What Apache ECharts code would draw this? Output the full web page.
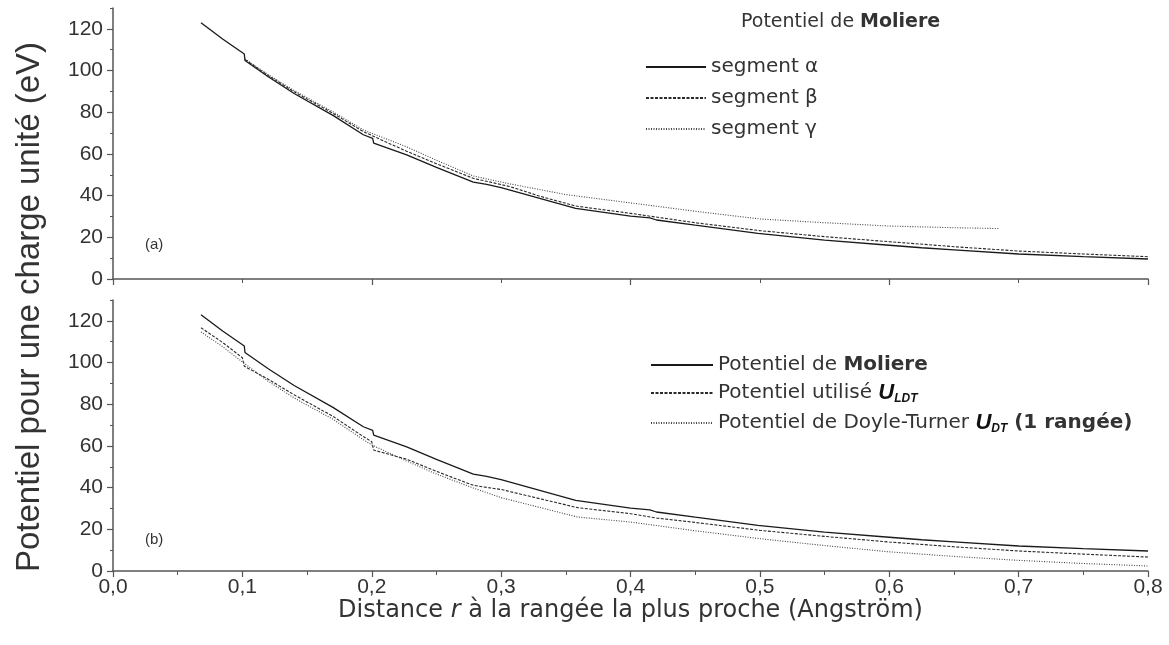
<!DOCTYPE html>
<html>
<head>
<meta charset="utf-8">
<script src="https://cdn.jsdelivr.net/npm/echarts@6/dist/echarts.min.js"></script>
<style>
  html, body { margin: 0; padding: 0; background: #fff; }
  #chart { width: 1169px; height: 645px; }
</style>
</head>
<body>
<div id="chart"></div>
<script>
// panel (a): Moliere potential along three segments
const alphaR = [0.068, 0.085, 0.1015, 0.102, 0.12, 0.14, 0.17, 0.1935, 0.2007, 0.2015, 0.227, 0.25, 0.2785, 0.2888, 0.3, 0.3576, 0.4, 0.415, 0.42, 0.45, 0.4985, 0.499, 0.55, 0.6, 0.625, 0.65, 0.7, 0.75, 0.8];
const alphaV = [122.9, 115.0, 107.9, 104.8, 97.0, 89.0, 78.5, 69.2, 67.5, 65.2, 59.5, 53.5, 46.5, 45.4, 43.8, 33.9, 30.2, 29.3, 28.3, 25.8, 21.9, 21.0, 18.6, 16.2, 15.0, 14.0, 12.0, 10.7, 9.6];

const betaR = [0.102, 0.12, 0.14, 0.17, 0.1935, 0.21, 0.227, 0.25, 0.2785, 0.307, 0.33, 0.3576, 0.4, 0.45, 0.5, 0.55, 0.6, 0.65, 0.7, 0.75, 0.8];
const betaV = [105.3, 97.6, 89.8, 79.5, 70.7, 66.0, 61.3, 55.3, 48.3, 44.3, 39.7, 35.0, 31.5, 27.0, 23.2, 20.3, 17.9, 15.5, 13.4, 12.0, 10.7];

const gammaR = [0.102, 0.12, 0.14, 0.17, 0.1935, 0.21, 0.227, 0.25, 0.2785, 0.307, 0.35, 0.4, 0.45, 0.5, 0.55, 0.6, 0.65, 0.685];
const gammaV = [105.6, 98.0, 90.4, 80.2, 71.5, 67.5, 63.4, 57.0, 49.4, 45.6, 40.5, 36.5, 32.5, 28.8, 27.0, 25.4, 24.6, 24.2];

// panel (b): U_LDT and Doyle-Turner, Moliere reused from alpha
const ldtR = [0.068, 0.085, 0.1, 0.1015, 0.12, 0.14, 0.17, 0.1935, 0.2, 0.2015, 0.227, 0.25, 0.2785, 0.29, 0.3, 0.359, 0.4, 0.42, 0.45, 0.5, 0.55, 0.6, 0.65, 0.7, 0.75, 0.8];
const ldtV = [116.7, 109.5, 102.3, 98.2, 92.0, 84.5, 74.2, 64.5, 62.0, 58.0, 53.6, 47.8, 41.1, 40.0, 39.1, 30.4, 27.5, 25.4, 23.3, 19.5, 16.6, 13.9, 11.6, 9.6, 8.1, 6.7];

const dtR = [0.068, 0.085, 0.1, 0.12, 0.14, 0.17, 0.1935, 0.2, 0.227, 0.25, 0.2785, 0.3, 0.359, 0.4, 0.45, 0.5, 0.55, 0.6, 0.65, 0.7, 0.75, 0.8];
const dtV = [114.7, 107.5, 100.3, 91.0, 83.0, 72.8, 63.0, 60.5, 52.7, 46.5, 39.8, 35.2, 25.9, 23.5, 19.3, 15.5, 12.2, 9.2, 7.0, 5.1, 3.6, 2.4];

const yMajor = [0, 20, 40, 60, 80, 100, 120];

const zip = (xs, ys) => xs.map((x, i) => [x, ys[i]]);

const FONT = "Liberation Sans";
const WIDE = "DejaVu Sans";
const axisColor = "#555";
const textColor = "#333";

const chart = echarts.init(document.getElementById("chart"));

const grids = [
  { left: 113, right: 21, top: 8, height: 271 },
  { left: 113, right: 21, top: 300, height: 271 },
];

function yAxesFor(gridIndex) {
  return [
    {
      // minor ticks every 10, carries the axis line
      type: "value", gridIndex, position: "left", min: 0, max: 130, interval: 10,
      axisLine: { show: true, onZero: false, lineStyle: { color: axisColor, width: 1.5 } },
      axisTick: { show: true, inside: false, length: 3, lineStyle: { color: axisColor } },
      axisLabel: { show: false },
      splitLine: { show: false },
    },
    {
      // major ticks and labels
      type: "value", gridIndex, position: "left", min: 0, max: 130, interval: 20,
      axisLine: { show: false, onZero: false },
      axisTick: { show: true, length: 6, customValues: yMajor, lineStyle: { color: axisColor, width: 1.2 } },
      axisLabel: { show: true, customValues: yMajor, margin: 10, fontFamily: FONT, fontSize: 21, color: textColor },
      splitLine: { show: false },
    },
  ];
}

const lineBase = { type: "line", showSymbol: false, symbol: "none", animation: false, silent: true };

const legendRich = {
  n: { fontFamily: WIDE, fontSize: 20, color: textColor, fontWeight: "normal", lineHeight: 24 },
  b: { fontFamily: WIDE, fontSize: 20, color: textColor, fontWeight: "bold", lineHeight: 24 },
  u: { fontFamily: FONT, fontSize: 22, color: "#111", fontWeight: "bold", fontStyle: "italic", lineHeight: 24 },
  s: { fontFamily: FONT, fontSize: 12, color: "#111", fontWeight: "bold", fontStyle: "italic", lineHeight: 12, verticalAlign: "bottom", padding: [8, 0, 0, 0] },
};

const titleRich = {
  n: { fontFamily: WIDE, fontSize: 19, color: textColor, fontWeight: "normal", lineHeight: 24 },
  b: { fontFamily: WIDE, fontSize: 19, color: textColor, fontWeight: "bold", lineHeight: 24 },
};

const legendLabels = {
  "Potentiel de Moliere": "{n|Potentiel de }{b|Moliere}",
  "Potentiel utilisé U_LDT": "{n|Potentiel utilisé }{u|U}{s|LDT}",
  "Potentiel de Doyle-Turner U_DT (1 rangée)": "{n|Potentiel de Doyle-Turner }{u|U}{s|DT}{b| (1 rangée)}",
};

chart.setOption({
  animation: false,
  backgroundColor: "#fff",
  grid: grids,
  xAxis: [
    {
      type: "value", gridIndex: 0, min: 0, max: 0.8, interval: 0.2,
      axisLine: { show: true, onZero: false, lineStyle: { color: axisColor, width: 1.5 } },
      axisTick: { show: true, length: 6, lineStyle: { color: axisColor, width: 1.2 } },
      minorTick: { show: true, splitNumber: 2, length: 4, lineStyle: { color: axisColor } },
      axisLabel: { show: false },
      splitLine: { show: false },
    },
    {
      type: "value", gridIndex: 1, min: 0, max: 0.8, interval: 0.1,
      axisLine: { show: true, onZero: false, lineStyle: { color: axisColor, width: 1.5 } },
      axisTick: { show: true, length: 6, lineStyle: { color: axisColor, width: 1.2 } },
      minorTick: { show: true, splitNumber: 2, length: 4, lineStyle: { color: axisColor } },
      axisLabel: {
        margin: 6, fontFamily: FONT, fontSize: 21, color: textColor,
        formatter: (v) => v.toFixed(1).replace(".", ","),
      },
      splitLine: { show: false },
      name: "{n|Distance }{i|r}{n| à la rangée la plus proche (Angström)}",
      nameLocation: "middle",
      nameGap: 26,
      nameTextStyle: {
        rich: {
          n: { fontFamily: WIDE, fontSize: 24, color: textColor },
          i: { fontFamily: WIDE, fontSize: 24, color: textColor, fontStyle: "italic" },
        },
      },
    },
  ],
  yAxis: [...yAxesFor(0), ...yAxesFor(1)],
  title: [
    {
      text: "{n|Potentiel de }{b|Moliere}",
      left: 736, top: 5,
      textStyle: { rich: titleRich },
    },
    { text: "(a)", left: 140, top: 232, textStyle: { fontFamily: FONT, fontSize: 15, fontWeight: "normal", color: textColor } },
    { text: "(b)", left: 140, top: 527, textStyle: { fontFamily: FONT, fontSize: 15, fontWeight: "normal", color: textColor } },
  ],
  graphic: [
    {
      type: "text", x: 30, y: 307, rotation: Math.PI / 2,
      style: {
        text: "Potentiel pour une charge unité (eV)",
        fontFamily: FONT, fontSize: 33, fill: textColor,
        align: "center", verticalAlign: "middle",
      },
    },
  ],
  legend: [
    {
      data: ["segment α", "segment β", "segment γ"],
      orient: "vertical", left: 640, top: 50,
      itemWidth: 60, itemHeight: 14, itemGap: 7,
      selectedMode: false,
      itemStyle: { opacity: 0 },
      textStyle: { fontFamily: WIDE, fontSize: 20, color: textColor, lineHeight: 24 },
    },
    {
      data: ["Potentiel de Moliere", "Potentiel utilisé U_LDT", "Potentiel de Doyle-Turner U_DT (1 rangée)"],
      orient: "vertical", left: 645, top: 350,
      itemWidth: 62, itemHeight: 14, itemGap: 7,
      selectedMode: false,
      itemStyle: { opacity: 0 },
      formatter: (name) => legendLabels[name],
      textStyle: { rich: legendRich },
    },
  ],
  series: [
    { ...lineBase, name: "segment α", xAxisIndex: 0, yAxisIndex: 0, data: zip(alphaR, alphaV),
      itemStyle: { color: "#1a1a1a" }, lineStyle: { color: "#1a1a1a", width: 1.3, type: "solid" } },
    { ...lineBase, name: "segment β", xAxisIndex: 0, yAxisIndex: 0, data: zip(betaR, betaV),
      itemStyle: { color: "#2a2a2a" }, lineStyle: { color: "#2a2a2a", width: 1.1, type: [3, 1.5] } },
    { ...lineBase, name: "segment γ", xAxisIndex: 0, yAxisIndex: 0, data: zip(gammaR, gammaV),
      itemStyle: { color: "#444" }, lineStyle: { color: "#444", width: 1.1, type: [1, 1.5] } },
    { ...lineBase, name: "Potentiel de Moliere", xAxisIndex: 1, yAxisIndex: 2, data: zip(alphaR, alphaV),
      itemStyle: { color: "#1a1a1a" }, lineStyle: { color: "#1a1a1a", width: 1.3, type: "solid" } },
    { ...lineBase, name: "Potentiel utilisé U_LDT", xAxisIndex: 1, yAxisIndex: 2, data: zip(ldtR, ldtV),
      itemStyle: { color: "#2a2a2a" }, lineStyle: { color: "#2a2a2a", width: 1.1, type: [3, 1.5] } },
    { ...lineBase, name: "Potentiel de Doyle-Turner U_DT (1 rangée)", xAxisIndex: 1, yAxisIndex: 2, data: zip(dtR, dtV),
      itemStyle: { color: "#444" }, lineStyle: { color: "#444", width: 1.1, type: [1, 1.5] } },
  ],
});
</script>
</body>
</html>
